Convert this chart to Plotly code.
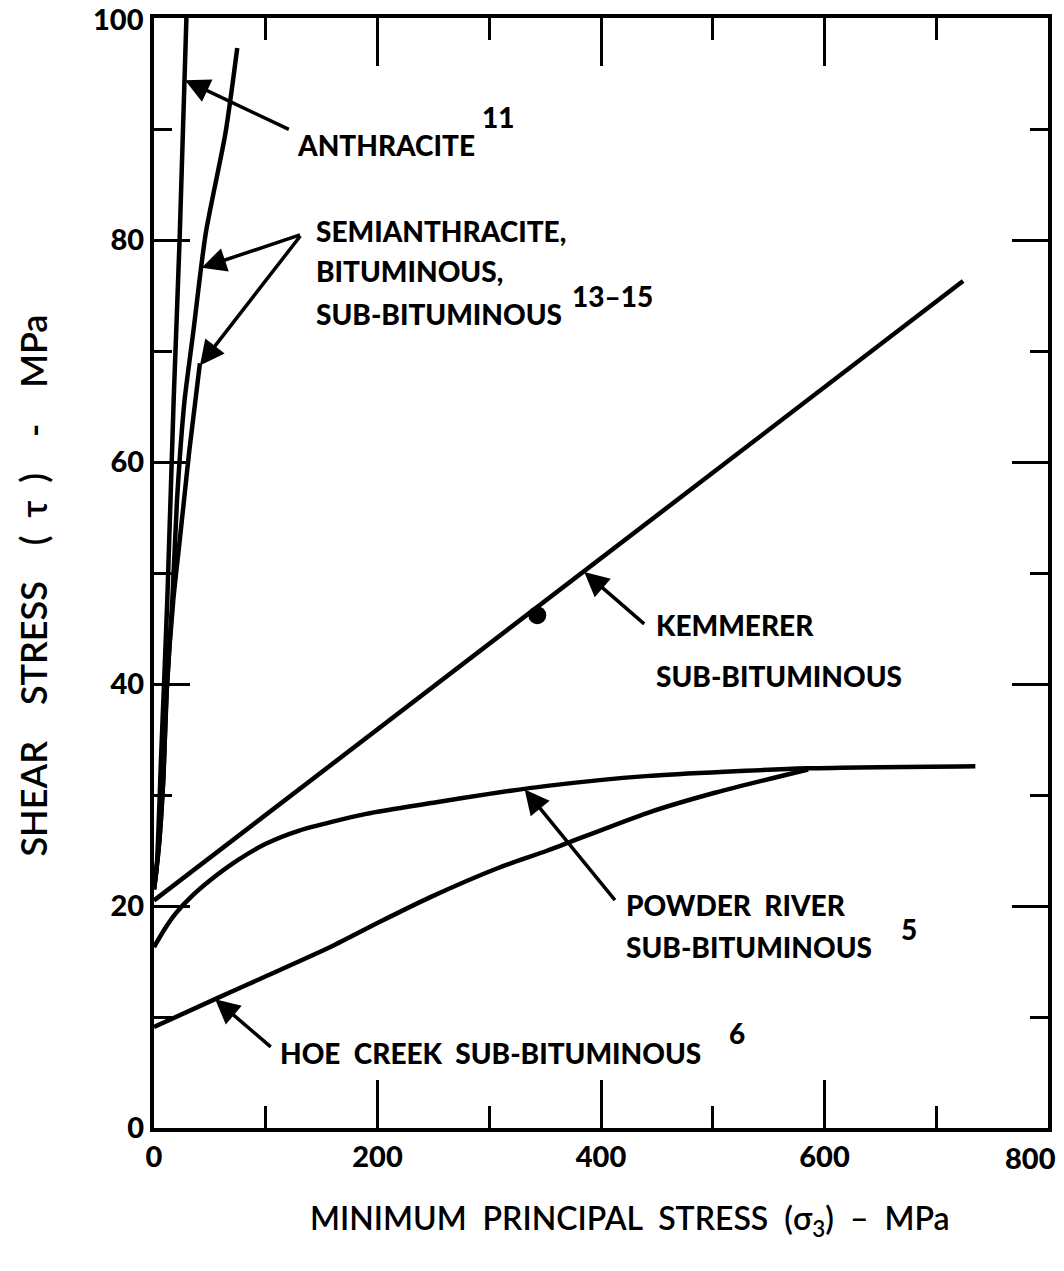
import plotly.graph_objects as go

# ---------------- data ----------------
anthracite_x = [0, 2.3, 6.6, 11.9, 17.6, 23.0, 29.0]
anthracite_y = [21.5, 23.3, 34.1, 47.6, 65.6, 80.3, 100.0]

semi_a_x = [0, 4.3, 8.3, 11.4, 16.4, 20.6, 23.6, 27.4, 35.0, 46.3, 63.9, 74.5]
semi_a_y = [21.5, 25.3, 31.4, 39.5, 47.6, 56.6, 61.1, 65.6, 71.6, 80.6, 89.6, 97.3]

semi_b_x = [0, 4.3, 8.3, 11.4, 17.3, 22.1, 26.9, 31.7, 41.1]
semi_b_y = [21.5, 25.3, 31.4, 39.5, 47.6, 52.1, 56.6, 61.1, 68.9]

kemmerer_x = [0, 724]
kemmerer_y = [20.5, 76.3]
kemmerer_pt_x = [343]
kemmerer_pt_y = [46.2]

powder_x = [0, 10, 20, 35, 50, 70, 100, 130, 190, 250, 300, 350, 440, 585, 735]
powder_y = [16.3, 18.0, 19.4, 21.0, 22.3, 23.8, 25.6, 26.8, 28.3, 29.3, 30.1, 30.8, 31.7, 32.4, 32.6]

hoe_x = [0, 56.6, 98.7, 157.8, 202.6, 247.4, 307.4, 352.3, 441.9, 501.9, 585.3]
hoe_y = [9.1, 11.7, 13.6, 16.3, 18.6, 20.8, 23.4, 25.0, 28.4, 30.2, 32.3]

x_tickvals = [0, 200, 400, 600, 800]
x_ticktext = ["0", "200", "400", "600", "800"]
y_tickvals = [0, 20, 40, 60, 80, 100]
y_ticktext = ["0", "20", "40", "60", "80", "100"]

# labels: (text, x, y)
labels = [
    ("ANTHRACITE", 126.0, 88.6),
    ("11", 292.0, 91.1),
    ("SEMIANTHRACITE,", 143.0, 80.8),
    ("BITUMINOUS,", 143.0, 77.2),
    ("SUB-BITUMINOUS", 143.0, 73.3),
    ("13–15", 372.0, 75.0),
    ("KEMMERER", 447.0, 45.3),
    ("SUB-BITUMINOUS", 447.0, 40.7),
    ("POWDER  RIVER", 421.0, 20.1),
    ("SUB-BITUMINOUS", 421.0, 16.3),
    ("5", 667.0, 17.9),
    ("HOE  CREEK  SUB-BITUMINOUS", 111.0, 6.8),
    ("6", 513.0, 8.6),
]

# arrows: (tip_x, tip_y, tail_x, tail_y)
arrows = [
    (27.8, 94.4, 122.0, 89.9),
    (42.6, 77.5, 132.0, 80.5),
    (41.1, 68.7, 132.0, 80.5),
    (385.0, 50.1, 440.0, 45.3),
    (331.7, 30.5, 413.6, 20.4),
    (54.7, 11.6, 105.8, 7.2),
]

# ---------------- figure ----------------
FONT = "Lato"
TICKFONT = dict(family=FONT, size=29, color="black", weight=900)
line_style = dict(color="black", width=4.5, shape="spline", smoothing=0.7)

fig = go.Figure()
fig.add_trace(go.Scatter(x=anthracite_x, y=anthracite_y, mode="lines", line=line_style))
fig.add_trace(go.Scatter(x=semi_a_x, y=semi_a_y, mode="lines", line=line_style))
fig.add_trace(go.Scatter(x=semi_b_x, y=semi_b_y, mode="lines", line=line_style))
fig.add_trace(go.Scatter(x=kemmerer_x, y=kemmerer_y, mode="lines",
                         line=dict(color="black", width=4.5)))
fig.add_trace(go.Scatter(x=kemmerer_pt_x, y=kemmerer_pt_y, mode="markers",
                         marker=dict(color="black", size=18)))
fig.add_trace(go.Scatter(x=powder_x, y=powder_y, mode="lines", line=line_style))
fig.add_trace(go.Scatter(x=hoe_x, y=hoe_y, mode="lines", line=line_style))

annotations = []
for text, x, y in labels:
    annotations.append(dict(
        text=text, x=x, y=y, xref="x", yref="y", xanchor="left", yanchor="middle",
        showarrow=False, font=dict(family=FONT, size=28, color="black", weight=900)))
for tx, ty, ax, ay in arrows:
    annotations.append(dict(
        text="", x=tx, y=ty, ax=ax, ay=ay, xref="x", yref="y", axref="x", ayref="y",
        showarrow=True, arrowhead=2, arrowsize=1.4, arrowwidth=3.5, arrowcolor="black",
        standoff=0, startstandoff=0))

# end-of-range tick labels (plotly hides these at the page edge), drawn as text
annotations.append(dict(
    text=y_ticktext[-1], x=0, y=y_tickvals[-1], xref="paper", yref="y",
    xanchor="right", yanchor="middle", xshift=-8, showarrow=False, font=TICKFONT))
annotations.append(dict(
    text=x_ticktext[-1], x=x_tickvals[-1], y=0, xref="x", yref="paper",
    xanchor="center", yanchor="top", xshift=-18, yshift=-10, showarrow=False, font=TICKFONT))

annotations.append(dict(
    text="MINIMUM  PRINCIPAL  STRESS  (σ<sub>3</sub>)  –  MPa",
    x=0.532, y=-0.083, xref="paper", yref="paper", xanchor="center", yanchor="middle",
    showarrow=False, font=dict(family=FONT, size=32, color="black", weight=600)))
annotations.append(dict(
    text="SHEAR    STRESS    (  τ  )    -    MPa",
    x=-0.135, y=0.489, xref="paper", yref="paper", xanchor="center", yanchor="middle",
    textangle=-90, showarrow=False, font=dict(family=FONT, size=36, color="black", weight=600)))

axis_common = dict(
    showgrid=False, zeroline=False, showline=True, linecolor="black", linewidth=4,
    mirror="ticks", ticks="inside", tickcolor="black", tickwidth=3,
    tickfont=TICKFONT,
)

fig.update_layout(
    width=1064, height=1271,
    margin=dict(l=154, r=16, t=18, b=143),
    plot_bgcolor="white", paper_bgcolor="white",
    showlegend=False,
    annotations=annotations,
    xaxis=dict(range=[0, 800], tickvals=x_tickvals[:-1], ticktext=x_ticktext[:-1], ticklen=48,
               minor=dict(dtick=100, ticklen=22, tickwidth=3, ticks="inside", tickcolor="black"),
               **axis_common),
    yaxis=dict(range=[0, 100], tickvals=y_tickvals[:-1], ticktext=y_ticktext[:-1], ticklen=36,
               minor=dict(dtick=10, ticklen=18, tickwidth=3, ticks="inside", tickcolor="black"),
               **axis_common),
)

fig.write_html("out.html")
